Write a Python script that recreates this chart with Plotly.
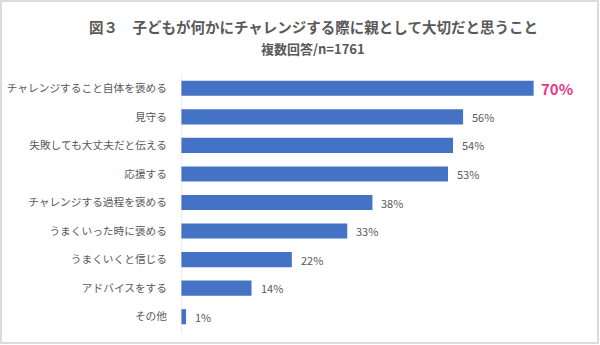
import plotly.graph_objects as go

categories = ["チャレンジすること自体を褒める", "見守る", "失敗しても大丈夫だと伝える", "応援する",
              "チャレンジする過程を褒める", "うまくいった時に褒める", "うまくいくと信じる",
              "アドバイスをする", "その他"]
values = [70, 56, 54, 53, 38, 33, 22, 14, 1]
labels = ["70%", "56%", "54%", "53%", "38%", "33%", "22%", "14%", "1%"]

W, H = 600, 345
L, R, T, B = 181, 16, 74, 14
pw, ph = W - L - R, H - T - B

fig = go.Figure(go.Bar(
    x=values, y=categories, orientation="h",
    marker=dict(color="#4472C4", line=dict(width=0)),
    width=0.53, hoverinfo="skip",
))

for i, (c, v, lab) in enumerate(zip(categories, values, labels)):
    if i == 0:
        fig.add_annotation(x=v, y=c, text="<b>" + lab + "</b>", showarrow=False,
                           xanchor="left", xshift=5,
                           font=dict(size=15, color="#E8388A", family="Noto Sans CJK JP"))
    else:
        fig.add_annotation(x=v, y=c, text=lab, showarrow=False, xanchor="left", xshift=7,
                           font=dict(size=11, color="#595959", family="Noto Sans CJK JP"))

fig.add_annotation(xref="paper", yref="paper", x=(313 - L) / pw, y=1 + (T - 27) / ph,
                   text="<b>図３　子どもが何かにチャレンジする際に親として大切だと思うこと</b>",
                   showarrow=False, xanchor="center", yanchor="middle",
                   font=dict(size=14.5, color="#595959", family="Noto Sans CJK JP"))
fig.add_annotation(xref="paper", yref="paper", x=(313 - L) / pw, y=1 + (T - 49) / ph,
                   text="<b>複数回答/n=1761</b>",
                   showarrow=False, xanchor="center", yanchor="middle",
                   font=dict(size=13, color="#595959", family="Noto Sans CJK JP"))

# outer border
fig.add_shape(type="rect", xref="paper", yref="paper",
              x0=(1 - L) / pw, x1=(598 - L) / pw,
              y0=1 - (343 - T) / ph, y1=1 - (1 - T) / ph,
              line=dict(color="#D0D0D0", width=1.5), fillcolor="rgba(0,0,0,0)", layer="below")

fig.update_layout(
    width=W, height=H,
    margin=dict(l=L, r=R, t=T, b=B, pad=0),
    paper_bgcolor="white", plot_bgcolor="white",
    showlegend=False,
    xaxis=dict(range=[0, 80], visible=False, fixedrange=True, automargin=False),
    yaxis=dict(autorange="reversed", showgrid=False, zeroline=False, automargin=False,
               showline=False, ticks="", ticklabelstandoff=13,
               tickfont=dict(size=10.7, color="#595959", family="Noto Sans CJK JP")),
)
fig.add_shape(type="line", xref="x", yref="paper", x0=0, x1=0, y0=-0.01, y1=1.0,
              line=dict(color="#D9D9D9", width=1))

fig.write_html("out.html")
